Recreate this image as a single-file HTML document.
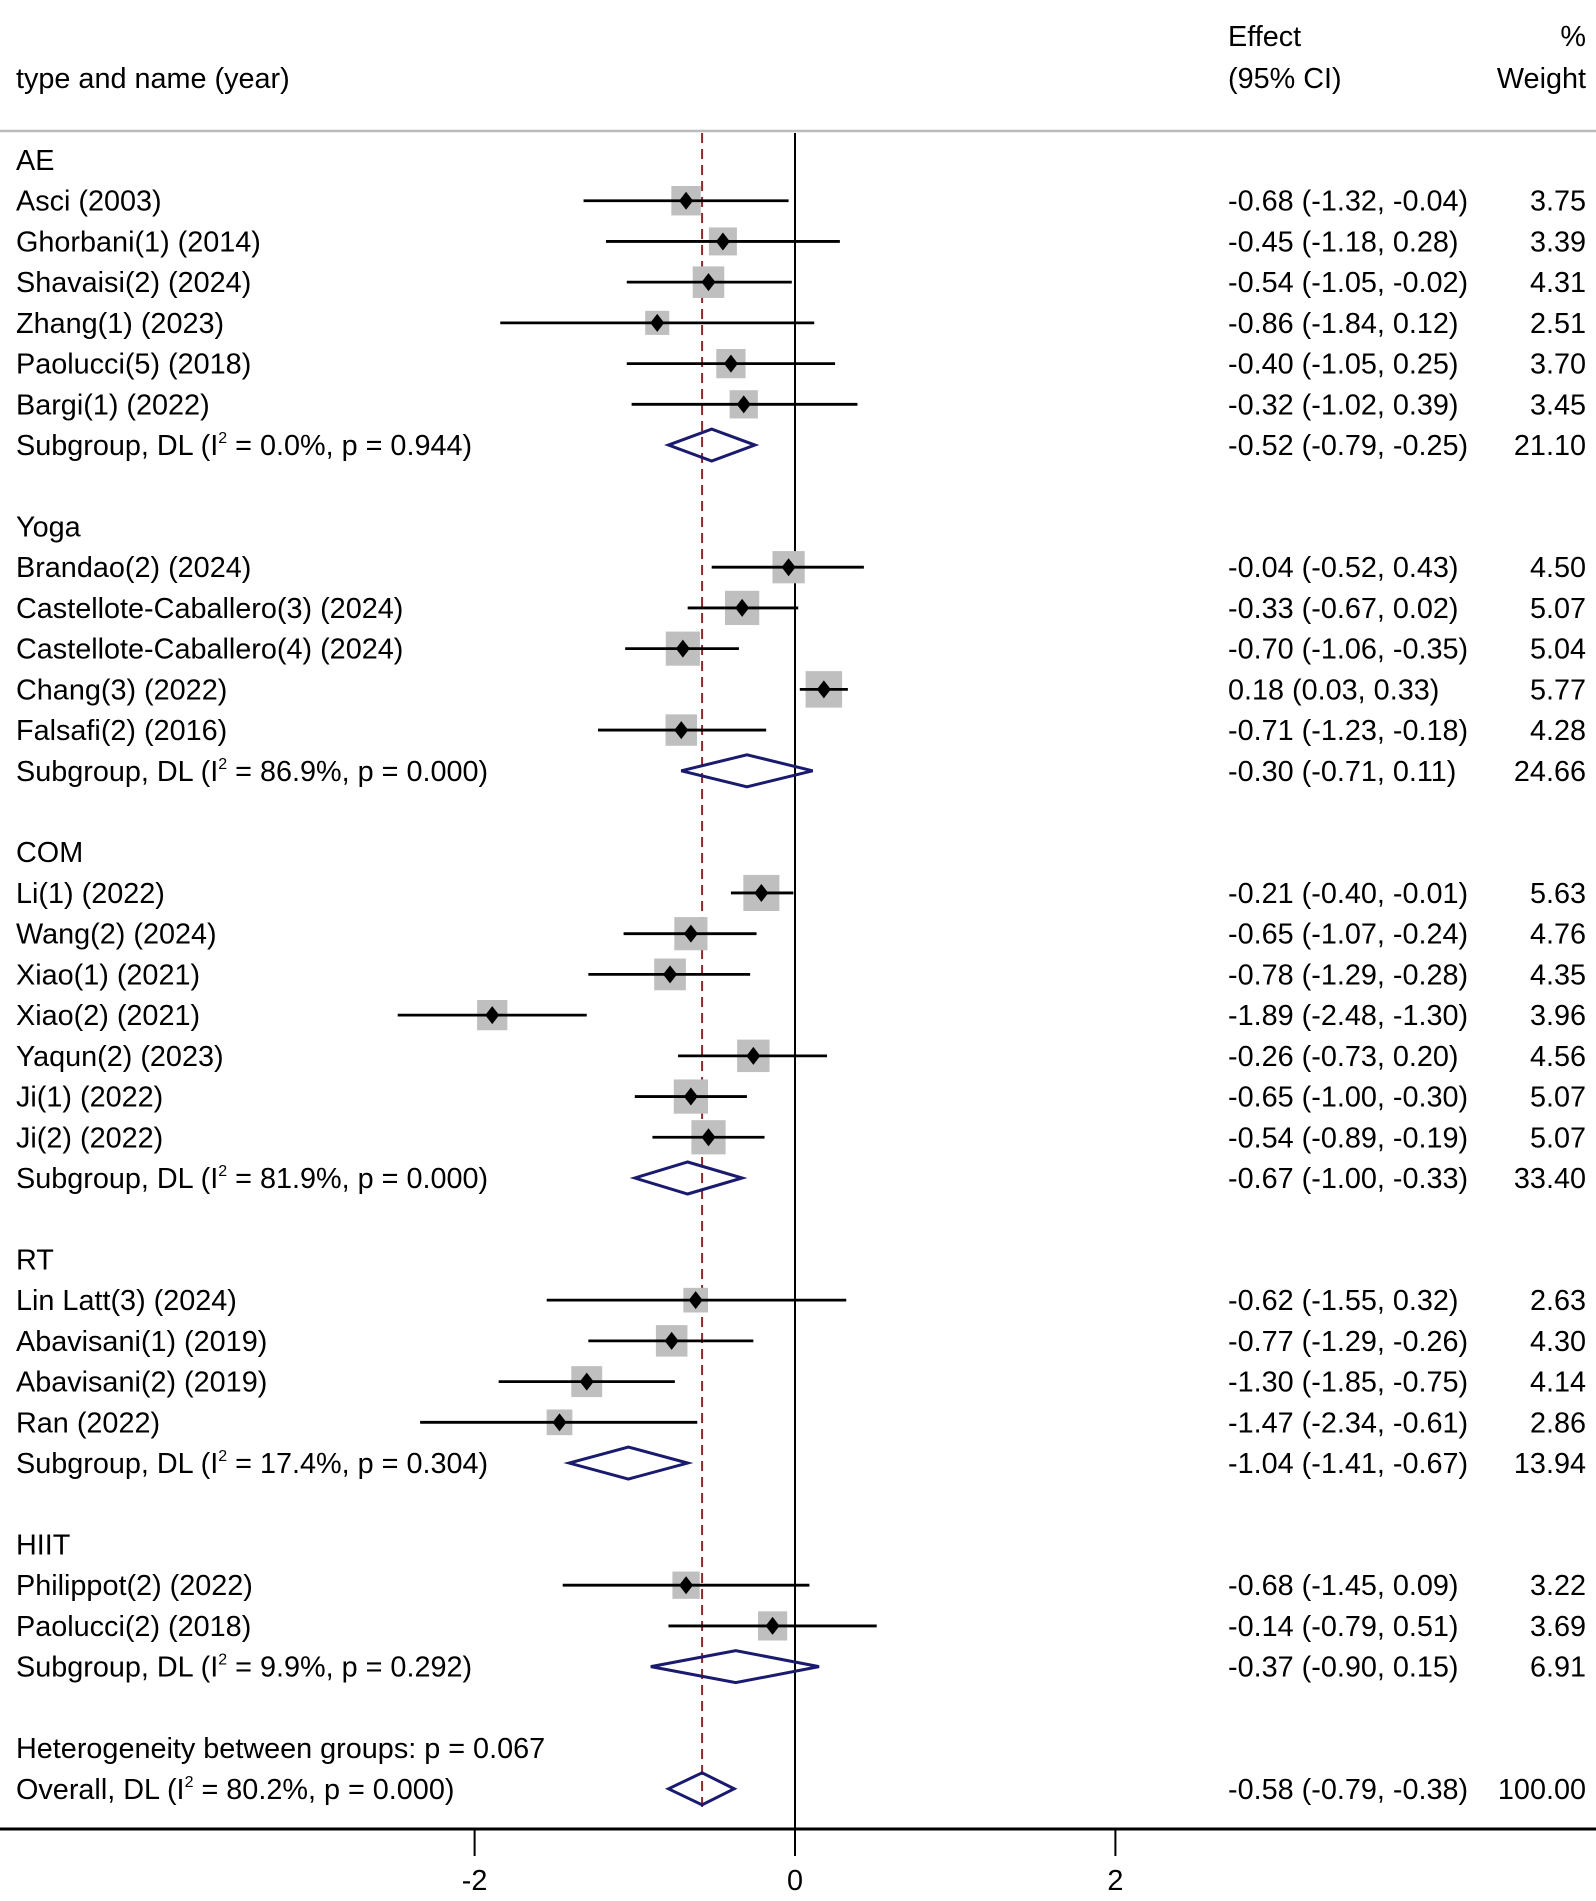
<!DOCTYPE html>
<html><head><meta charset="utf-8"><style>
html,body{margin:0;padding:0;background:#fff}
svg text{font-family:"Liberation Sans",Arial,sans-serif;font-size:28.8px;fill:#000}
</style></head><body>
<svg id="plot" width="1596" height="1896" viewBox="0 0 1596 1896" xmlns="http://www.w3.org/2000/svg">
<text x="16" y="88">type and name (year)</text>
<text x="1228" y="46">Effect</text>
<text x="1228" y="88">(95% CI)</text>
<text x="1586" y="46" text-anchor="end">%</text>
<text x="1586" y="88" text-anchor="end">Weight</text>
<line x1="0" y1="131" x2="1596" y2="131" stroke="#bbb" stroke-width="2.5"/>
<g id="marks"></g>
</svg>
<script>
const labels=["AE","Asci (2003)","Ghorbani(1) (2014)","Shavaisi(2) (2024)","Zhang(1) (2023)","Paolucci(5) (2018)","Bargi(1) (2022)","Subgroup, DL (I²  = 0.0%, p = 0.944)","",
"Yoga","Brandao(2) (2024)","Castellote-Caballero(3) (2024)","Castellote-Caballero(4) (2024)","Chang(3) (2022)","Falsafi(2) (2016)","Subgroup, DL (I²  = 86.9%, p = 0.000)","",
"COM","Li(1) (2022)","Wang(2) (2024)","Xiao(1) (2021)","Xiao(2) (2021)","Yaqun(2) (2023)","Ji(1) (2022)","Ji(2) (2022)","Subgroup, DL (I²  = 81.9%, p = 0.000)","",
"RT","Lin Latt(3) (2024)","Abavisani(1) (2019)","Abavisani(2) (2019)","Ran (2022)","Subgroup, DL (I²  = 17.4%, p = 0.304)","",
"HIIT","Philippot(2) (2022)","Paolucci(2) (2018)","Subgroup, DL (I²  = 9.9%, p = 0.292)","",
"Heterogeneity between groups: p = 0.067","Overall, DL (I²  = 80.2%, p = 0.000)"];
const kinds="hssssssgbhsssssgbhsssssssgbhssssgbhssgbtg".split("");
const est=[null,-0.68,-0.45,-0.54,-0.86,-0.40,-0.32,-0.52,null,null,-0.04,-0.33,-0.70,0.18,-0.71,-0.30,null,null,-0.21,-0.65,-0.78,-1.89,-0.26,-0.65,-0.54,-0.67,null,null,-0.62,-0.77,-1.30,-1.47,-1.04,null,null,-0.68,-0.14,-0.37,null,null,-0.58];
const lo=[null,-1.32,-1.18,-1.05,-1.84,-1.05,-1.02,-0.79,null,null,-0.52,-0.67,-1.06,0.03,-1.23,-0.71,null,null,-0.40,-1.07,-1.29,-2.48,-0.73,-1.00,-0.89,-1.00,null,null,-1.55,-1.29,-1.85,-2.34,-1.41,null,null,-1.45,-0.79,-0.90,null,null,-0.79];
const hi=[null,-0.04,0.28,-0.02,0.12,0.25,0.39,-0.25,null,null,0.43,0.02,-0.35,0.33,-0.18,0.11,null,null,-0.01,-0.24,-0.28,-1.30,0.20,-0.30,-0.19,-0.33,null,null,0.32,-0.26,-0.75,-0.61,-0.67,null,null,0.09,0.51,0.15,null,null,-0.38];
const weights=[null,3.75,3.39,4.31,2.51,3.70,3.45,21.10,null,null,4.50,5.07,5.04,5.77,4.28,24.66,null,null,5.63,4.76,4.35,3.96,4.56,5.07,5.07,33.40,null,null,2.63,4.30,4.14,2.86,13.94,null,null,3.22,3.69,6.91,null,null,100.00];
const xTicks=[-2,0,2];
const overallEst=-0.58;

const NS="http://www.w3.org/2000/svg";
const g=document.getElementById('marks');
const X=v=>795+v*160.2;
const Y=i=>160+i*40.72;
const f=v=>v.toFixed(2);
function mk(tag,attrs,parent){const e=document.createElementNS(NS,tag);for(const k in attrs)e.setAttribute(k,attrs[k]);(parent||g).appendChild(e);return e;}
let l=mk('line',{x1:X(0),y1:133,x2:X(0),y2:1829,stroke:'#000','stroke-width':2});


l=mk('line',{x1:X(overallEst),y1:133,x2:X(overallEst),y2:Y(40)+22,stroke:'#8b2a2a','stroke-width':2,'stroke-dasharray':'10,6'});


labels.forEach((lab,i)=>{
  const k=kinds[i];const y=Y(i);
  if(lab){
    const t=mk('text',{x:16,y:y+10});
    if(lab.includes('I²')){const p=lab.split('I²');t.appendChild(document.createTextNode(p[0]+'I'));
      const s=mk('tspan',{dy:-12,'font-size':'16px'},t);s.textContent='2';
      const r=mk('tspan',{dy:12},t);r.textContent=' '+p[1].trimStart();}
    else t.textContent=lab;
    
    
  }
  if(k==='s'){
    const side=15.2*Math.sqrt(weights[i]);
    const b=mk('rect',{x:X(est[i])-side/2,y:y-side/2,width:side,height:side,fill:'#bfbfbf'});
    
    
    const c=mk('line',{x1:X(lo[i]),y1:y,x2:X(hi[i]),y2:y,stroke:'#000','stroke-width':2.8});
    
    
    const cx=X(est[i]);
    const d=mk('polygon',{points:`${cx-7},${y} ${cx},${y-9} ${cx+7},${y} ${cx},${y+9}`,fill:'#000'});
    
    
  }
  if(k==='g'){
    const d=mk('polygon',{points:`${X(lo[i])},${y} ${X(est[i])},${y-16} ${X(hi[i])},${y} ${X(est[i])},${y+16}`,fill:'none',stroke:'#1a1a6e','stroke-width':3});
    
    
  }
  if(k==='s'||k==='g'){
    const t=mk('text',{x:1228,y:y+10});t.textContent=`${f(est[i])} (${f(lo[i])}, ${f(hi[i])})`;
    
    
    const w=mk('text',{x:1586,y:y+10,'text-anchor':'end'});w.textContent=f(weights[i]);
    
    
  }
});
l=mk('line',{x1:0,y1:1829,x2:1596,y2:1829,stroke:'#000','stroke-width':3});


xTicks.forEach(v=>{
  const t=mk('line',{x1:X(v),y1:1829,x2:X(v),y2:1856,stroke:'#000','stroke-width':2});
  
  
  const tx=mk('text',{x:X(v),y:1890,'text-anchor':'middle'});tx.textContent=String(v);
  
  
});
</script>
</body></html>
